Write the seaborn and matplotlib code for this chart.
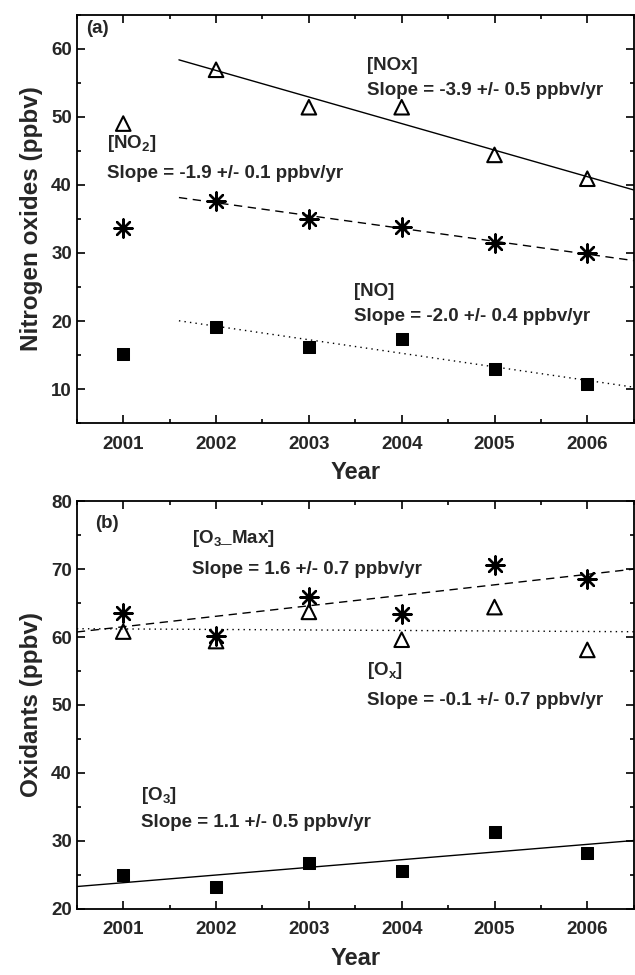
import numpy as np
import pandas as pd
import matplotlib
matplotlib.use("Agg")
import matplotlib.pyplot as plt
import seaborn as sns
from matplotlib.ticker import MultipleLocator

sns.set_style("ticks")
plt.rcParams['font.family'] = ['Liberation Sans', 'DejaVu Sans']
plt.rcParams['font.weight'] = 'bold'
plt.rcParams['mathtext.default'] = 'regular'

years = [2001, 2002, 2003, 2004, 2005, 2006]

# panel (a) - nitrogen oxides
nox = [49.0, 56.9, 51.4, 51.4, 44.4, 40.9]
no2 = [33.7, 37.7, 35.0, 33.8, 31.5, 30.0]
no = [15.2, 19.1, 16.2, 17.3, 12.9, 10.8]

# panel (b) - oxidants
o3max = [63.6, 60.1, 65.9, 63.4, 70.6, 68.6]
ox = [60.8, 59.4, 63.7, 59.6, 64.4, 58.1]
o3 = [24.9, 23.2, 26.8, 25.5, 31.3, 28.2]

df_a = pd.DataFrame({'year': years, 'NOx': nox, 'NO2': no2, 'NO': no})
df_b = pd.DataFrame({'year': years, 'O3max': o3max, 'Ox': ox, 'O3': o3})

fig = plt.figure(figsize=(6.35, 9.75), dpi=100)
ax1 = fig.add_axes([0.121, 0.566, 0.877, 0.419])
ax2 = fig.add_axes([0.121, 0.068, 0.877, 0.418])

star = (8, 2, 0)


def fit_line(ax, df, col, x0, x1, ls):
    # linear fit, panel (a) uses 2002-2006 only
    sub = df[df['year'] >= (2002 if x0 > 2001 else 2001)]
    k, b = np.polyfit(sub['year'], sub[col], 1)
    xs = np.array([x0, x1])
    ax.plot(xs, k * xs + b, color='black', lw=1.0, ls=ls)


def style_axis(ax, ylim, ylab):
    ax.set_xlim(2000.5, 2006.5)
    ax.set_ylim(*ylim)
    ax.set_xticks(years)
    ax.xaxis.set_minor_locator(MultipleLocator(0.5))
    ax.yaxis.set_major_locator(MultipleLocator(10))
    ax.yaxis.set_minor_locator(MultipleLocator(5))
    ax.tick_params(which='both', direction='in', top=True, right=True,
                   labelsize=13.5, width=1.2, color='black')
    ax.tick_params(which='major', length=6)
    ax.tick_params(which='minor', length=3)
    for s in ax.spines.values():
        s.set_linewidth(1.3)
        s.set_color('black')
    ax.set_xlabel('Year', fontsize=17, fontweight='bold', labelpad=6)
    ax.set_ylabel(ylab, fontsize=17.5, fontweight='bold', labelpad=6)
    for lab in ax.get_xticklabels() + ax.get_yticklabels():
        lab.set_fontweight('bold')
    ax.tick_params(axis='x', pad=9)


# ---- panel (a)
sns.scatterplot(data=df_a, x='year', y='NOx', ax=ax1, marker='^', s=110,
                facecolor='none', edgecolor='black', linewidth=1.5)
sns.scatterplot(data=df_a, x='year', y='NO2', ax=ax1, marker=star, s=170,
                color='black', linewidth=1.7)
sns.scatterplot(data=df_a, x='year', y='NO', ax=ax1, marker='s', s=85,
                color='black', edgecolor='black')
fit_line(ax1, df_a, 'NOx', 2001.6, 2006.5, '-')
fit_line(ax1, df_a, 'NO2', 2001.6, 2006.5, (0, (6, 4)))
fit_line(ax1, df_a, 'NO', 2001.6, 2006.5, (0, (1, 3)))
style_axis(ax1, (5, 65), 'Nitrogen oxides (ppbv)')

tk = dict(fontsize=13.5, fontweight='bold', va='center', ha='left')
ax1.text(2000.6, 63.0, '(a)', **tk)
ax1.text(2003.63, 57.5, '[NOx]', **tk)
ax1.text(2003.63, 53.8, 'Slope = -3.9 +/- 0.5 ppbv/yr', **tk)
ax1.text(2000.83, 46.0, r'[NO$_2$]', **tk)
ax1.text(2000.83, 41.6, 'Slope = -1.9 +/- 0.1 ppbv/yr', **tk)
ax1.text(2003.49, 24.3, '[NO]', **tk)
ax1.text(2003.49, 20.7, 'Slope = -2.0 +/- 0.4 ppbv/yr', **tk)

# ---- panel (b)
sns.scatterplot(data=df_b, x='year', y='Ox', ax=ax2, marker='^', s=110,
                facecolor='none', edgecolor='black', linewidth=1.5)
sns.scatterplot(data=df_b, x='year', y='O3max', ax=ax2, marker=star, s=170,
                color='black', linewidth=1.7)
sns.scatterplot(data=df_b, x='year', y='O3', ax=ax2, marker='s', s=85,
                color='black', edgecolor='black')
fit_line(ax2, df_b, 'O3max', 2000.5, 2006.5, (0, (6, 4)))
fit_line(ax2, df_b, 'Ox', 2000.5, 2006.5, (0, (1, 3)))
fit_line(ax2, df_b, 'O3', 2000.5, 2006.5, '-')
style_axis(ax2, (20, 80), 'Oxidants (ppbv)')

ax2.text(2000.7, 76.7, '(b)', **tk)
ax2.text(2001.74, 74.5, r'[O$_3$_Max]', **tk)
ax2.text(2001.74, 70.0, 'Slope = 1.6 +/- 0.7 ppbv/yr', **tk)
ax2.text(2003.63, 55.0, r'[O$_x$]', **tk)
ax2.text(2003.63, 50.6, 'Slope = -0.1 +/- 0.7 ppbv/yr', **tk)
ax2.text(2001.19, 36.6, r'[O$_3$]', **tk)
ax2.text(2001.19, 32.7, 'Slope = 1.1 +/- 0.5 ppbv/yr', **tk)

fig.savefig('out.png', dpi=100)
